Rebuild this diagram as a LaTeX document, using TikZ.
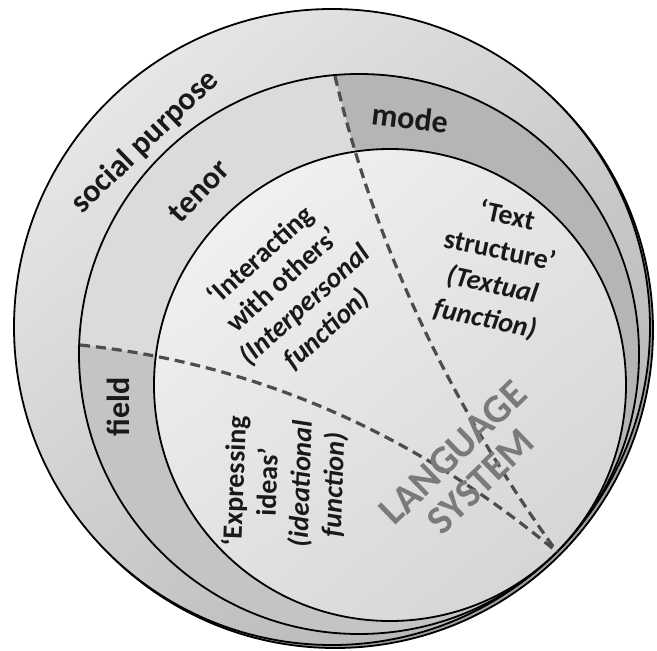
\documentclass[tikz,border=0pt]{standalone}
\usepackage{fontspec}
\setmainfont{Carlito}
\usetikzlibrary{positioning}
\definecolor{rimgray}{HTML}{9E9E9E}
\definecolor{outerhi}{HTML}{E6E6E6}
\definecolor{outerlo}{HTML}{B6B6B6}
\definecolor{tenorfill}{HTML}{DBDBDB}
\definecolor{modefill}{HTML}{B5B5B5}
\definecolor{fieldfill}{HTML}{C4C4C4}
\definecolor{innerhi}{HTML}{F0F0F0}
\definecolor{innerlo}{HTML}{D6D6D6}

\begin{document}
\begin{tikzpicture}[x=1pt,y=-1pt,
	rim/.style={draw=black,line width=1.8pt},
	divider/.style={draw=black!70,line width=3.2pt,dash pattern=on 10pt off 6pt},
	reg/.style={font=\bfseries\fontsize{32}{36}\selectfont,text=black!90,inner sep=0pt},
	fn/.style={font=\bfseries\fontsize{28}{33}\selectfont,align=center,text=black!90,inner sep=0pt},
	sys/.style={font=\bfseries\fontsize{40}{40}\selectfont,align=center,text=black!52,inner sep=0pt}]
		\useasboundingbox (0,0) rectangle (657,651);
		\coordinate (base) at (335,330);
		\coordinate (c1) at (332,327);
		\coordinate (c2) at (359,354);
		\coordinate (c3) at (390,385);
		\coordinate (T) at (557,552);
		\coordinate (modeTop) at (335,76);
		\coordinate (fieldLeft) at (80,345);
		\filldraw[rim,fill=rimgray] (base) circle[radius=318];
		\shade[top color=outerhi,bottom color=outerlo,shading angle=40] (c1) circle[radius=318];
		\draw[rim] (c1) circle[radius=318];
		\begin{scope}
			\clip (c2) circle[radius=280];
			\fill[modefill] (c2) circle[radius=280];
			\fill[fieldfill] (modeTop) .. controls (374,243) and (448,401) .. (T)
				-- (557,700) -- (-10,700) -- (-10,-10) -- (335,-10) -- cycle;
			\fill[tenorfill] (modeTop) .. controls (374,243) and (448,401) .. (T)
				.. controls (413,432) and (254,363) .. (fieldLeft)
				-- (-10,345) -- (-10,-10) -- (335,-10) -- cycle;
		\end{scope}
		\draw[rim] (c2) circle[radius=280];
		\shade[top color=innerhi,bottom color=innerlo,shading angle=40] (c3) circle[radius=236];
		\draw[rim] (c3) circle[radius=236];
		\draw[divider] (modeTop) .. controls (374,243) and (448,401) .. (T);
		\draw[divider] (fieldLeft) .. controls (254,363) and (413,432) .. (T);
		\node[reg,rotate=44] (social) at (145,142) {social purpose};
		\node[reg,rotate=46] (tenor) at (199,191) {tenor};
		\node[reg,rotate=-7] (mode) at (410,118) {mode};
		\node[reg,rotate=90] (field) at (118,407) {field};
		\node[fn,rotate=42] (interp) at (294,293) {`Interacting\\with others'\\\textit{(Interpersonal}\\\textit{function)}};
		\node[fn,rotate=-12,font=\bfseries\fontsize{28}{35}\selectfont] (textual) at (496,268) {`Text\\structure'\\\textit{(Textual}\\\textit{function)}};
		\node[fn,rotate=88] (ideat) at (285,483) {`Expressing\\ideas'\\\textit{(ideational}\\\textit{function)}};
		\node[sys,rotate=44] (langsys) at (467,467) {LANGUAGE\\SYSTEM};
	\end{tikzpicture}
\end{document}
